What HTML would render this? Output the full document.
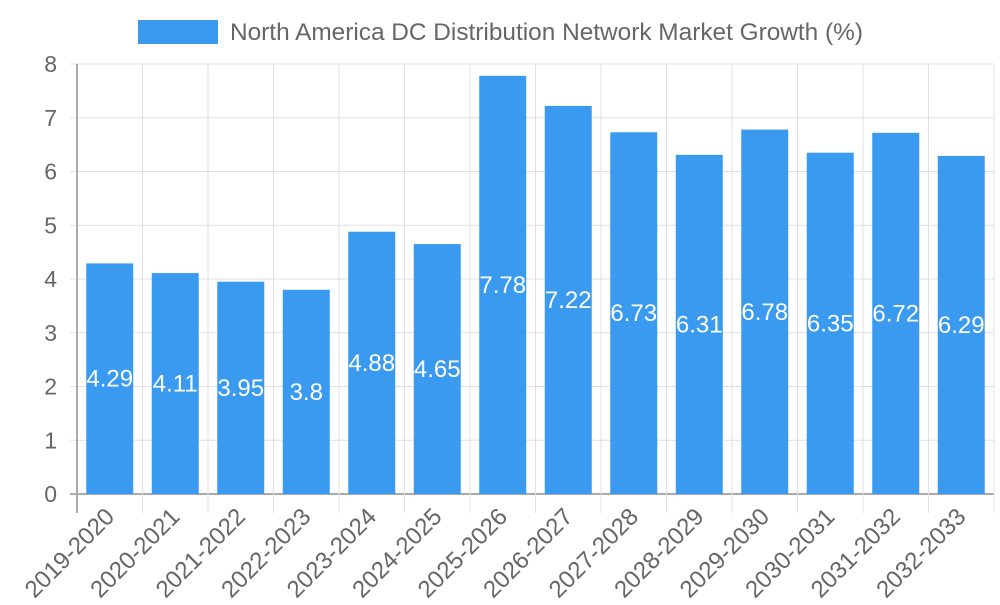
<!DOCTYPE html>
<html><head><meta charset="utf-8"><style>
html,body{margin:0;padding:0;background:#fff;}
svg text{font-family:"Liberation Sans",sans-serif;}
</style></head><body>
<svg id="c" width="1000" height="600">
<g>
<rect x="138" y="20" width="80" height="24" fill="#3a9af0"></rect>
<text x="230" y="40" font-size="24.4" fill="#666">North America DC Distribution Network Market Growth (%)</text>
</g>
<g id="grid"></g><g id="bars"></g><g id="labels"></g>
</svg>
<script>
const categories=["2019-2020","2020-2021","2021-2022","2022-2023","2023-2024","2024-2025","2025-2026","2026-2027","2027-2028","2028-2029","2029-2030","2030-2031","2031-2032","2032-2033"];
const values=[4.29,4.11,3.95,3.8,4.88,4.65,7.78,7.22,6.73,6.31,6.78,6.35,6.72,6.29];
const yTicks=[0,1,2,3,4,5,6,7,8];
const NS="http://www.w3.org/2000/svg";
const L=77,R=994,T=64,B=494,yMax=8;
const bw=(R-L)/categories.length;
const y=v=>B-(B-T)*v/yMax;
const x=i=>L+bw*i;
function mk(tag,attrs,parent,txt){const e=document.createElementNS(NS,tag);for(const k in attrs)e.setAttribute(k,attrs[k]);if(txt!==undefined)e.textContent=txt;document.getElementById(parent).appendChild(e);return e;}
yTicks.forEach(t=>{
 const g=mk('line',{x1:L-7,x2:R,y1:y(t),y2:y(t),stroke:t===0?'#aaa':'#e0e0e0','stroke-width':t===0?2:1},'grid');
 
 
 const tx=mk('text',{x:L-20,y:y(t)+8,'text-anchor':'end','font-size':23,fill:'#666'},'grid',t);
 
 
});
for(let i=0;i<=categories.length;i++){
 const g=mk('line',{x1:x(i),x2:x(i),y1:T,y2:B+19,stroke:i===0?'#aaa':'#e0e0e0','stroke-width':i===0?2:1},'grid');
 
 
}
categories.forEach((c,i)=>{
 const cx=x(i)+bw/2,v=values[i];
 const r=mk('rect',{x:cx-23.5,y:y(v),width:47,height:B-y(v),fill:'#3a9af0'},'bars');
 
 
 const lb=mk('text',{x:cx,y:(y(v)+B)/2+8,'text-anchor':'middle','font-size':24,fill:'#fff'},'labels',v);
 
 
 const tl=mk('text',{x:0,y:0,'text-anchor':'end','font-size':24,fill:'#666',transform:`translate(${cx+6},${B+24}) rotate(-45)`},'labels',c);
 
 
});
</script>
</body></html>
